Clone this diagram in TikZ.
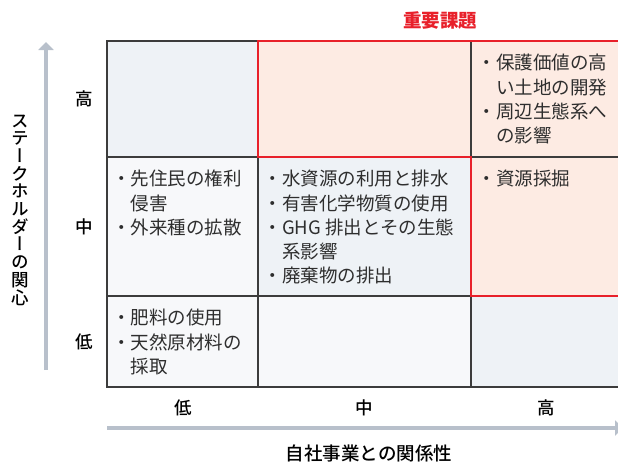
\documentclass[tikz,border=0pt]{standalone}
\usepackage{fontspec}
\setmainfont{Noto Sans CJK JP}
\newfontfamily\medfont{Noto Sans CJK JP Medium}
\newfontfamily\vertfont[RawFeature=+vert]{Noto Sans CJK JP Medium}
\usetikzlibrary{arrows.meta}
\definecolor{gridline}{HTML}{3C3C3C}
\definecolor{keyred}{HTML}{E8202A}
\definecolor{axisgray}{HTML}{B8C0CB}
\definecolor{cellblue}{HTML}{EEF2F6}
\definecolor{cellpale}{HTML}{F7F8FA}
\definecolor{cellorange}{HTML}{FDEBE3}
\definecolor{celltext}{HTML}{2E2E2E}
\tikzset{
  celltxt/.style={anchor=north west, inner sep=0pt, align=left, text=celltext,
    font=\fontsize{18.5}{24.3}\selectfont},
  lvl/.style={inner sep=0pt, text=black, font=\medfont\fontsize{17.5}{20}\selectfont},
  axis/.style={line width=4pt, draw=axisgray, -{Triangle[width=15pt,length=8pt]}},
  gridrule/.style={draw=gridline, line width=1.2pt},
}
\newcommand{\hang}{\hspace*{1em}}

\begin{document}
\begin{tikzpicture}[x=1pt,y=-1pt]
        \useasboundingbox (0,0) rectangle (618,464);
        \clip (0,0) rectangle (618,464);
        %cells
        \fill[cellblue] (107,41) rectangle (258,157);
        \fill[cellorange] (258,41) rectangle (622,157);
        \fill[cellpale] (107,157) rectangle (258,296);
        \fill[cellblue] (258,157) rectangle (471,296);
        \fill[cellorange] (471,157) rectangle (622,296);
        \fill[cellpale] (107,296) rectangle (471,387);
        \fill[cellblue] (471,296) rectangle (622,387);

        %grid
        \draw[gridrule] (107,41) rectangle (622,387);
        \foreach \x in {258,471} \draw[gridrule] (\x,41) -- (\x,387);
        \foreach \y in {157,296} \draw[gridrule] (107,\y) -- (622,\y);
        \draw[keyred, line width=2pt] (622,41) -- (258,41) -- (258,157) -- (471,157) -- (471,296) -- (622,296);

        %cell texts
        \node[celltxt] (hh) at (477.5,54) {・保護価値の高\\\hang い土地の開発\\・周辺生態系へ\\\hang の影響};
        \node[celltxt] (ml) at (112,170) {・先住民の権利\\\hang 侵害\\・外来種の拡散};
        \node[celltxt] (mm) at (263.5,170) {・水資源の利用と排水\\・有害化学物質の使用\\・GHG 排出とその生態\\\hang 系影響\\・廃棄物の排出};
        \node[celltxt] (mh) at (477.5,170) {・資源採掘};
        \node[celltxt] (lm) at (112,309) {・肥料の使用\\・天然原材料の\\\hang 採取};

        %levels
        \node[lvl] (yhigh) at (84,99) {高};
        \node[lvl] (ymid) at (84,227) {中};
        \node[lvl] (ylow) at (84,342) {低};
        \node[lvl] (xlow) at (183,408) {低};
        \node[lvl] (xmid) at (364,408) {中};
        \node[lvl] (xhigh) at (546,408) {高};

        %axes
        \coordinate (ystart) at (46,370);
        \coordinate (yend) at (46,42);
        \draw[axis] (ystart) -- (yend);
        \coordinate (xstart) at (107,428);
        \coordinate (xend) at (623,428);
        \draw[axis] (xstart) -- (xend);
        \node[lvl, align=center, font=\vertfont\fontsize{17.5}{17.7}\selectfont] (ytitle) at (20,210)
          {ス\\テ\\ー\\ク\\ホ\\ル\\ダ\\ー\\の\\関\\心};
        \node[lvl, font=\medfont\fontsize{18.5}{20}\selectfont] (xtitle) at (369,453) {自社事業との関係性};
        \node[inner sep=0pt, text=keyred, font=\bfseries\fontsize{18.5}{20}\selectfont] (key) at (440,21) {重要課題};
\end{tikzpicture}
\end{document}
